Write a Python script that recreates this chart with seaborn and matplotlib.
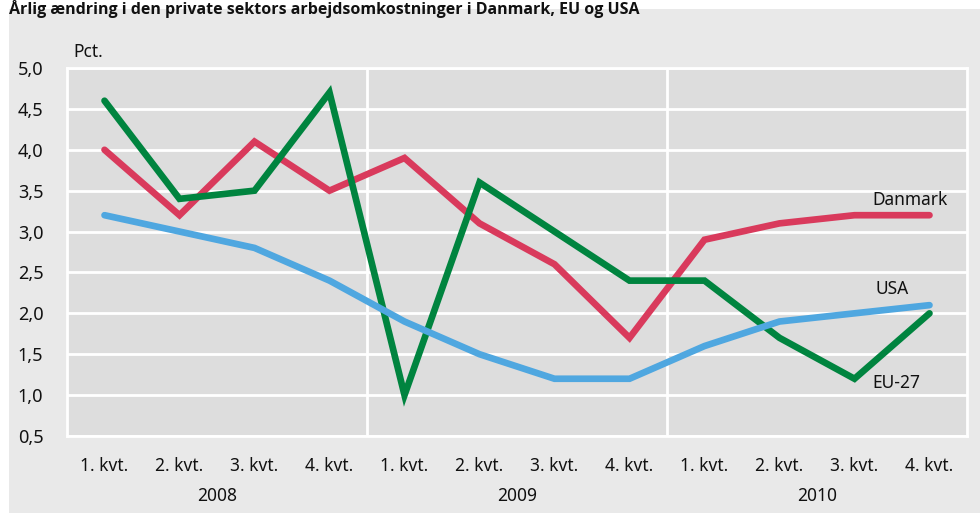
import numpy as np
import pandas as pd
import matplotlib
matplotlib.use("Agg")
import matplotlib.pyplot as plt
import matplotlib.transforms as mtransforms
from matplotlib.patches import Rectangle
import seaborn as sns

# data
quarters = ["1. kvt.", "2. kvt.", "3. kvt.", "4. kvt."] * 3
years = ["2008", "2009", "2010"]
danmark = [4.0, 3.2, 4.1, 3.5, 3.9, 3.1, 2.6, 1.7, 2.9, 3.1, 3.2, 3.2]
eu27 = [4.6, 3.4, 3.5, 4.7, 1.0, 3.6, 3.0, 2.4, 2.4, 1.7, 1.2, 2.0]
usa = [3.2, 3.0, 2.8, 2.4, 1.9, 1.5, 1.2, 1.2, 1.6, 1.9, 2.0, 2.1]
y_ticks = [0.5, 1.0, 1.5, 2.0, 2.5, 3.0, 3.5, 4.0, 4.5, 5.0]

title = "Årlig ændring i den private sektors arbejdsomkostninger i Danmark, EU og USA"
colors = {"Danmark": "#d93a5c", "EU-27": "#00843f", "USA": "#4fa7e0"}

sns.set_style("white")
plt.rcParams["font.family"] = ["Noto Sans", "DejaVu Sans"]
TXT = "#111111"

W, H = 980, 515
fig = plt.figure(figsize=(W / 100, H / 100), dpi=100, facecolor="white")

# outer grey panel behind the axes
fig.patches.append(Rectangle((9 / W, 2 / H), 1, 1 - 11 / H,
                             transform=fig.transFigure, facecolor="#e9e9e9",
                             edgecolor="none", zorder=-5))
fig.text(9 / W, 1 + 0.5 / H, title, fontsize=11.5, fontweight="bold",
         family=["Open Sans", "DejaVu Sans"], ha="left", va="top", color=TXT)

ax = fig.add_axes([67 / W, 1 - 436 / H, 900 / W, 368 / H])
ax.set_facecolor("#dddddd")

n = len(danmark)
df = pd.DataFrame({
    "pos": list(range(n)) * 3,
    "value": danmark + eu27 + usa,
    "serie": ["Danmark"] * n + ["EU-27"] * n + ["USA"] * n,
})

sns.lineplot(data=df, x="pos", y="value", hue="serie", palette=colors,
             linewidth=4.8, ax=ax, legend=False, zorder=3)
for line in ax.lines:
    line.set_solid_capstyle("round")
    line.set_solid_joinstyle("miter")

ax.set_xlim(-0.5, n - 0.5)
ax.set_ylim(0.5, 5.0)
ax.set_yticks(y_ticks)
ax.set_yticklabels([f"{v:.1f}".replace(".", ",") for v in y_ticks], fontsize=13)
ax.grid(axis="y", color="white", linewidth=2)
for xb in [3.5, 7.5]:
    ax.axvline(xb, color="white", linewidth=2, zorder=1)
ax.set_axisbelow(True)
for sp in ax.spines.values():
    sp.set_color("white")
    sp.set_linewidth(2)

ax.set_xticks(range(n))
ax.set_xticklabels(quarters, fontsize=12.5)
ax.tick_params(axis="both", length=0, colors=TXT)
ax.tick_params(axis="y", pad=17)
ax.tick_params(axis="x", pad=15)
ax.set_xlabel("")
ax.set_ylabel("")

trans = mtransforms.blended_transform_factory(ax.transData, fig.transFigure)
for i, yr in enumerate(years):
    ax.text(i * 4 + 1.5, 1 - 496 / H, yr, transform=trans, ha="center",
            va="center", fontsize=12.5, color=TXT)

fig.text(73 / W, 1 - 52 / H, "Pct.", fontsize=12.5, ha="left", va="center",
         color=TXT)

ax.text(10.24, 3.38, "Danmark", fontsize=12.5, ha="left", va="center", color=TXT)
ax.text(10.28, 2.3, "USA", fontsize=12.5, ha="left", va="center", color=TXT)
ax.text(10.24, 1.15, "EU-27", fontsize=12.5, ha="left", va="center", color=TXT)

fig.savefig("out.png", dpi=100, facecolor=fig.get_facecolor())
